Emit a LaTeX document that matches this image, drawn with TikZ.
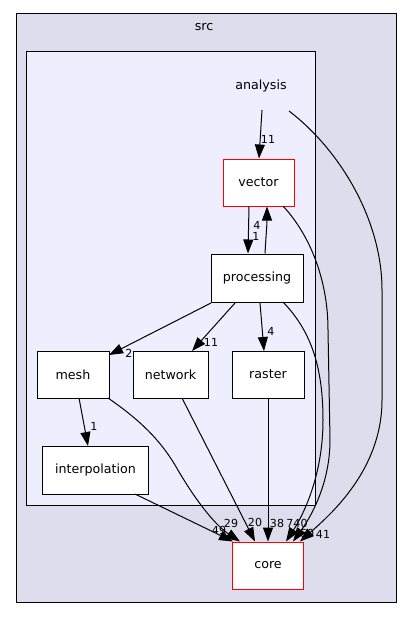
\documentclass[tikz,border=0pt]{standalone}
\usepackage{fontspec}
\setmainfont{DejaVu Sans}
\usetikzlibrary{arrows.meta}
\begin{document}
\begin{tikzpicture}[x=0.75pt,y=-0.75pt,
  dirbox/.style={draw=black,fill=white,line width=0.75pt,inner sep=0pt,font=\fontsize{9.5pt}{11pt}\selectfont},
  redbox/.style={dirbox,draw=red},
  dep/.style={draw=black,line width=0.75pt,-{Triangle[length=10.5pt,width=7.5pt]}},
  elab/.style={font=\fontsize{8.3pt}{10pt}\selectfont,inner sep=0pt},
  clab/.style={font=\fontsize{9.5pt}{11pt}\selectfont,inner sep=0pt}]
\useasboundingbox (0,0) rectangle (411,617);
% clusters
\draw[fill={rgb,255:red,221;green,221;blue,238},line width=0.75pt] (16,14) rectangle (396,602);
\node[clab] (srclab) at (204,27) {src};
\draw[fill={rgb,255:red,238;green,238;blue,255},line width=0.75pt] (26,52) rectangle (315,505);
\node[clab] (analysis) at (261,86) {analysis};
\coordinate (aOut1) at (262,110);
\coordinate (aOut2) at (289,111);
% nodes
\node[redbox,minimum width=71*0.75pt,minimum height=47*0.75pt] (vector) at (258.5,182.5) {vector};
\node[dirbox,minimum width=92*0.75pt,minimum height=48*0.75pt] (processing) at (257,278) {processing};
\node[dirbox,minimum width=72*0.75pt,minimum height=47*0.75pt] (mesh) at (73,374.5) {mesh};
\node[dirbox,minimum width=75*0.75pt,minimum height=47*0.75pt] (network) at (170.5,374.5) {network};
\node[dirbox,minimum width=72*0.75pt,minimum height=47*0.75pt] (raster) at (268,374.5) {raster};
\node[dirbox,minimum width=106*0.75pt,minimum height=48*0.75pt] (interpolation) at (95.5,470) {interpolation};
\node[redbox,minimum width=71*0.75pt,minimum height=47*0.75pt] (core) at (268,565.5) {core};
% edges
\draw[dep] (aOut1) -- (vector.north -| 259,0);
\node[elab] (l1) at (268,139) {11};
\draw[dep] (aOut2) .. controls (340,150) and (382,220) .. (382,290) -- (382,400) .. controls (382,470) and (330,515) .. ([xshift=32*0.75pt]core.north);
\node[elab] (l2) at (323,534) {41};
\draw[dep] (vector.south -| 249,0) -- (processing.north -| 248,0);
\node[elab] (l3) at (256,236) {1};
\draw[dep] (processing.north -| 265,0) .. controls (266,235) and (267,225) .. (vector.south -| 267,0);
\node[elab] (l4) at (257,225) {4};
\draw[dep] (283,206) .. controls (310,235) and (328,280) .. (328,330) -- (330,440) .. controls (330,490) and (305,525) .. ([xshift=25*0.75pt]core.north);
\node[elab] (l5) at (307,533) {60};
\draw[dep] (283,302) .. controls (310,330) and (323,365) .. (323,420) .. controls (323,480) and (300,520) .. ([xshift=18*0.75pt]core.north);
\node[elab] (l6) at (297,523) {740};
\draw[dep] (211,303) -- (109,355);
\node[elab] (l7) at (129,353) {2};
\draw[dep] (235,303) -- (192,351);
\node[elab] (l8) at (211,342) {11};
\draw[dep] (260,303) -- (264,351);
\node[elab] (l9) at (271,331) {4};
\draw[dep] (79,398) -- (88,446);
\node[elab] (l10) at (94,426) {1};
\draw[dep] (108,398) .. controls (140,420) and (160,440) .. (175,465) .. controls (195,500) and (215,525) .. ([xshift=-28*0.75pt]core.north);
\node[elab] (l11) at (231,523) {29};
\draw[dep] (182,398) -- ([xshift=-13*0.75pt]core.north);
\node[elab] (l12) at (255,522) {20};
\draw[dep] (raster.south) -- (core.north);
\node[elab] (l13) at (277,523) {38};
\draw[dep] (135,494) -- ([xshift=-35*0.75pt]core.north);
\node[elab] (l14) at (219,530) {49};
\end{tikzpicture}
\end{document}
